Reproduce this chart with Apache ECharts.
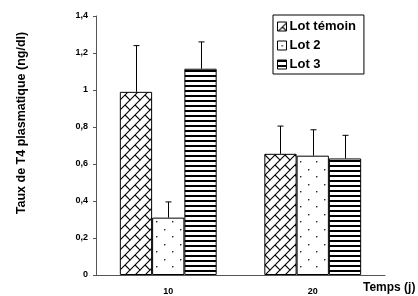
<!DOCTYPE html>
<html>
<head>
<meta charset="utf-8">
<script src="https://cdn.jsdelivr.net/npm/echarts@6/dist/echarts.min.js"></script>
<style>
  html, body { margin: 0; padding: 0; background: #fff; }
  #main { width: 418px; height: 296px; }
</style>
</head>
<body>
<div id="main"></div>
<script>
// categories (jours)
var categories = ['10', '20'];
var seriesNames = ['Lot témoin', 'Lot 2', 'Lot 3'];

// moyennes
var lotTemoin = [0.99, 0.655];
var lot2 = [0.31, 0.645];
var lot3 = [1.115, 0.63];

// écarts (barres d'erreur, vers le haut)
var lotTemoinErr = [0.25, 0.15];
var lot2Err = [0.085, 0.14];
var lot3Err = [0.145, 0.125];

var yTicks = { min: 0, max: 1.4, interval: 0.2 };

var FONT = 'Liberation Sans, Arial, sans-serif';
var CAT_GAP = 0.33;

// motifs de remplissage
function makePattern(w, h, draw) {
    var c = document.createElement('canvas');
    c.width = w;
    c.height = h;
    var ctx = c.getContext('2d');
    ctx.fillStyle = '#fff';
    ctx.fillRect(0, 0, w, h);
    draw(ctx, w, h);
    return { image: c, repeat: 'repeat' };
}

var brick = makePattern(10, 10, function(ctx, w, h) {
    ctx.strokeStyle = '#000';
    ctx.lineWidth = 1.1;
    ctx.beginPath();
    // diagonale "/"
    ctx.moveTo(-1, h + 1); ctx.lineTo(w + 1, -1);
    // petit segment "\" entre deux diagonales
    ctx.moveTo(w / 2, h / 2); ctx.lineTo(w + 1, h + 1);
    ctx.moveTo(-1, -1); ctx.lineTo(0.5, 0.5);
    ctx.stroke();
});

var dots = makePattern(16, 15, function(ctx) {
    ctx.fillStyle = '#222';
    ctx.fillRect(4, 4, 1.4, 1.4);
    ctx.fillRect(12, 11, 1.4, 1.4);
});

var stripes = makePattern(4, 5, function(ctx, w) {
    ctx.fillStyle = '#000';
    ctx.fillRect(0, 0, w, 2);
});

var fills = [brick, dots, stripes];
var values = [lotTemoin, lot2, lot3];
var errors = [lotTemoinErr, lot2Err, lot3Err];

var chart = echarts.init(document.getElementById('main'));

var series = [];
seriesNames.forEach(function(name, i) {
    series.push({
        name: name,
        type: 'bar',
        data: values[i],
        barGap: '0%',
        barCategoryGap: (CAT_GAP * 100) + '%',
        itemStyle: { color: fills[i], borderColor: '#000', borderWidth: 1 },
        emphasis: { disabled: true }
    });
});

seriesNames.forEach(function(name, i) {
    series.push({
        type: 'custom',
        z: 5,
        silent: true,
        data: values[i].map(function(v, k) { return [k, v, errors[i][k]]; }),
        encode: { x: 0, y: 1 },
        renderItem: function(params, api) {
            var k = api.value(0);
            var v = api.value(1);
            var e = api.value(2);
            var band = api.size([1, 0])[0];
            var barW = band * (1 - CAT_GAP) / 3;
            var base = api.coord([k, v]);
            var top = api.coord([k, v + e]);
            var x = Math.round(base[0] + (i - 1) * barW) + 0.5;
            var cap = 3;
            return {
                type: 'group',
                children: [{
                    type: 'line',
                    shape: { x1: x, y1: base[1], x2: x, y2: top[1] },
                    style: { stroke: '#000', lineWidth: 1 }
                }, {
                    type: 'line',
                    shape: { x1: x - cap, y1: top[1], x2: x + cap, y2: top[1] },
                    style: { stroke: '#000', lineWidth: 1 }
                }]
            };
        }
    });
});

var option = {
    animation: false,
    textStyle: { fontFamily: FONT },
    grid: { left: 96, right: 33, top: 16, bottom: 19, containLabel: false },
    legend: {
        data: seriesNames,
        orient: 'vertical',
        left: 273,
        top: 15,
        padding: [5, 8, 3, 4],
        itemGap: 6,
        itemWidth: 9,
        itemHeight: 9,
        borderColor: '#000',
        borderWidth: 1,
        icon: 'rect',
        itemStyle: { borderColor: '#000', borderWidth: 1 },
        textStyle: { fontSize: 13, fontWeight: 'bold', color: '#000', fontFamily: FONT, padding: [0, 0, 0, -2] }
    },
    xAxis: {
        type: 'category',
        data: categories,
        axisLine: { lineStyle: { color: '#555', width: 1 } },
        axisTick: { length: 3, lineStyle: { color: '#555' } },
        axisLabel: { fontSize: 9, fontWeight: 'bold', color: '#000', margin: 12 }
    },
    yAxis: {
        type: 'value',
        min: yTicks.min,
        max: yTicks.max,
        interval: yTicks.interval,
        splitLine: { show: false },
        axisLine: { show: true, lineStyle: { color: '#555', width: 1 } },
        axisTick: { show: true, length: 3, lineStyle: { color: '#555' } },
        axisLabel: {
            fontSize: 9,
            fontWeight: 'bold',
            color: '#000',
            margin: 8,
            formatter: function(v) {
                return String(Math.round(v * 10) / 10).replace('.', ',');
            }
        }
    },
    graphic: [{
        type: 'text',
        x: 22,
        y: 123,
        rotation: Math.PI / 2,
        style: {
            text: 'Taux de T4 plasmatique (ng/dl)',
            font: 'bold 12.5px ' + FONT,
            fill: '#000',
            align: 'center',
            verticalAlign: 'middle'
        }
    }, {
        type: 'text',
        x: 363,
        y: 288,
        style: {
            text: 'Temps (j)',
            font: 'bold 12px ' + FONT,
            fill: '#000',
            align: 'left',
            verticalAlign: 'middle'
        }
    }],
    series: series
};

chart.setOption(option);
</script>
</body>
</html>
